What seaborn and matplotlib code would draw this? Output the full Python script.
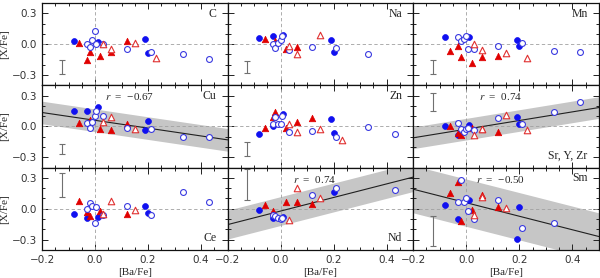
"""Abundance ratios [X/Fe] against [Ba/Fe], 3x3 panel grid."""

import matplotlib
matplotlib.use("Agg")
import matplotlib.pyplot as plt
import numpy as np
import pandas as pd
import seaborn as sns

nan = np.nan

# [Ba/Fe] of the four star groups
BA_FILLED_BLUE = [-0.08, -0.03, 0.01, 0.19, 0.20]
BA_OPEN_BLUE = [-0.03, -0.02, -0.01, 0.00, 0.005, 0.03, 0.12, 0.21, 0.33, 0.43]
BA_FILLED_RED = [-0.06, -0.03, -0.02, 0.02, 0.06, 0.12]
BA_OPEN_RED = [0.03, 0.06, 0.15, 0.23]

ELEMENTS = ["C", "Na", "Mn", "Cu", "Zn", "Sr, Y, Zr", "Ce", "Nd", "Sm"]

# [X/Fe] per element, same order as the [Ba/Fe] lists
FILLED_BLUE = {
    "C": [0.03, nan, 0.02, 0.05, -0.085],
    "Na": [0.06, 0.08, 0.09, 0.04, -0.08],
    "Mn": [0.07, nan, 0.07, 0.036, -0.013],
    "Cu": [0.15, 0.15, 0.19, -0.03, 0.055],
    "Zn": [-0.076, 0.0, 0.12, 0.076, -0.066],
    "Sr, Y, Zr": [0.0, -0.086, 0.013, 0.09, 0.023],
    "Ce": [-0.055, -0.087, -0.077, 0.026, -0.039],
    "Nd": [-0.01, -0.09, -0.084, nan, 0.16],
    "Sm": [0.04, -0.10, 0.087, -0.29, 0.02],
}
OPEN_BLUE = {
    "C": [0.0, -0.03, 0.045, 0.13, 0.0, 0.0, -0.045, -0.075, -0.10, -0.145],
    "Na": [0.0, -0.04, 0.016, 0.04, 0.08, -0.06, -0.03, -0.035, -0.10, nan],
    "Mn": [0.07, 0.03, 0.046, 0.08, -0.046, -0.046, -0.013, 0.007, -0.07, -0.076],
    "Cu": [0.03, -0.01, 0.04, 0.10, 0.155, 0.10, -0.017, -0.026, -0.107, -0.107],
    "Zn": [0.026, 0.09, 0.026, 0.026, 0.105, -0.05, -0.04, -0.10, -0.007, -0.076],
    "Sr, Y, Zr": [0.03, -0.02, -0.05, -0.02, -0.013, -0.03, 0.086, 0.02, 0.145, 0.24],
    "Ce": [0.0, 0.058, 0.026, -0.135, 0.016, -0.065, 0.026, -0.065, 0.16, 0.065],
    "Nd": [-0.058, -0.074, -0.09, -0.10, -0.085, nan, 0.13, 0.20, nan, 0.18],
    "Sm": [0.065, 0.28, 0.07, 0.10, -0.02, -0.097, 0.09, -0.187, -0.14, nan],
}
FILLED_RED = {
    "C": [0.01, -0.155, -0.08, -0.11, -0.08, 0.03],
    "Na": [0.055, nan, 0.03, -0.05, -0.026, nan],
    "Mn": [-0.063, -0.02, -0.125, -0.18, -0.125, -0.11],
    "Cu": [0.03, nan, 0.06, -0.023, -0.033, 0.023],
    "Zn": [-0.016, 0.095, 0.14, -0.016, 0.043, 0.08],
    "Sr, Y, Zr": [0.003, -0.06, -0.08, -0.01, -0.026, -0.053],
    "Ce": [0.08, -0.03, -0.07, -0.023, nan, -0.055],
    "Nd": [0.032, -0.026, nan, 0.07, 0.07, 0.045],
    "Sm": [0.15, 0.265, -0.12, -0.016, 0.135, 0.02],
}
OPEN_RED = {
    "C": [0.0, -0.045, 0.01, -0.13],
    "Na": [-0.016, -0.10, 0.087, nan],
    "Mn": [0.0, -0.053, -0.09, -0.135],
    "Cu": [0.04, 0.09, -0.023, nan],
    "Zn": [0.023, -0.05, -0.023, -0.13],
    "Sr, Y, Zr": [-0.08, -0.02, 0.11, -0.036],
    "Ce": [-0.055, 0.075, -0.013, nan],
    "Nd": [-0.106, 0.20, 0.10, nan],
    "Sm": [-0.065, 0.11, 0.006, nan],
}

# typical error bar: centre and half length
ERR_CENTER = [-0.22, -0.22, -0.22, -0.22, -0.22, 0.24, 0.23, 0.24, -0.22]
ERR_HALF = [0.07, 0.06, 0.07, 0.05, 0.065, 0.09, 0.12, 0.15, 0.145]

# linear fits with correlation coefficient and band half width
FIT_ELEMENTS = ["Cu", "Sr, Y, Zr", "Nd", "Sm"]
FIT_SLOPE = [-0.38, 0.42, 0.66, -0.657]
FIT_INTERCEPT = [0.06, -0.026, -0.022, 0.059]
FIT_BAND = [0.11, 0.105, 0.14, 0.23]
FIT_R = ["\u22120.67", "0.74", "0.74", "\u22120.50"]

LABEL_AT_BOTTOM = ["Sr, Y, Zr", "Ce", "Nd"]

BLUE = "#1010f0"
RED = "#e00000"
OPEN_BLUE_EDGE = "#3a3ae0"
OPEN_RED_EDGE = "#e03030"


def build_frame():
    rows = []
    groups = [
        ("filled_blue", BA_FILLED_BLUE, FILLED_BLUE),
        ("filled_red", BA_FILLED_RED, FILLED_RED),
        ("open_blue", BA_OPEN_BLUE, OPEN_BLUE),
        ("open_red", BA_OPEN_RED, OPEN_RED),
    ]
    for name, ba, table in groups:
        for el in ELEMENTS:
            for b, v in zip(ba, table[el]):
                rows.append({"element": el, "group": name, "ba": b, "x": v})
    return pd.DataFrame(rows).dropna()


STYLES = {
    "filled_blue": dict(marker="o", s=18, facecolor=BLUE, edgecolor=BLUE, linewidth=0.5),
    "filled_red": dict(marker="^", s=22, facecolor=RED, edgecolor=RED, linewidth=0.5),
    "open_blue": dict(marker="o", s=18, facecolor="white", edgecolor=OPEN_BLUE_EDGE, linewidth=0.8),
    "open_red": dict(marker="^", s=22, facecolor="white", edgecolor=OPEN_RED_EDGE, linewidth=0.8),
}


def main():
    sns.set_style("ticks")
    plt.rcParams["font.family"] = ["DejaVu Sans"]
    plt.rcParams["mathtext.fontset"] = "stix"
    serif = ["Liberation Serif", "DejaVu Serif"]

    df = build_frame()
    fig, axes = plt.subplots(3, 3, figsize=(6.0, 2.78), dpi=100, sharex=True, sharey=True)
    fig.subplots_adjust(left=0.07, right=0.998, bottom=0.101, top=0.989, wspace=0, hspace=0)

    xs = np.array([-0.2, 0.5])
    for i, el in enumerate(ELEMENTS):
        ax = axes.flat[i]
        ax.axhline(0, color="#a0a0a0", lw=0.6, ls=(0, (4, 3)), zorder=1)
        ax.axvline(0, color="#a0a0a0", lw=0.6, ls=(0, (4, 3)), zorder=1)

        if el in FIT_ELEMENTS:
            k = FIT_ELEMENTS.index(el)
            line = FIT_INTERCEPT[k] + FIT_SLOPE[k] * xs
            ax.fill_between(xs, line - FIT_BAND[k], line + FIT_BAND[k],
                            color="#c6c6c6", lw=0, zorder=0.5)
            sns.lineplot(x=xs, y=line, ax=ax, color="#202020", lw=0.8, zorder=2)
            ax.text(0.47, 0.86, "$r$  =  " + FIT_R[k], transform=ax.transAxes,
                    ha="center", va="center", fontsize=8, family=serif)

        ax.errorbar([-0.125], [ERR_CENTER[i]], yerr=[ERR_HALF[i]], color="#707070",
                    lw=0.8, capsize=2.5, capthick=0.8, zorder=2)

        sub = df[df["element"] == el]
        for group in ["filled_blue", "filled_red", "open_blue", "open_red"]:
            part = sub[sub["group"] == group]
            sns.scatterplot(data=part, x="ba", y="x", ax=ax, zorder=3, legend=False,
                            **STYLES[group])

        if el in LABEL_AT_BOTTOM:
            ax.text(0.94, 0.14, el, transform=ax.transAxes, ha="right", va="center",
                    fontsize=8.5, family=serif)
        else:
            ax.text(0.94, 0.87, el, transform=ax.transAxes, ha="right", va="center",
                    fontsize=8.5, family=serif)

        ax.set_xlim(-0.2, 0.5)
        ax.set_ylim(-0.4, 0.4)
        ax.set_xticks([-0.2, 0.0, 0.2, 0.4])
        ax.set_xticks(np.arange(-0.2, 0.51, 0.05), minor=True)
        ax.set_yticks([-0.3, 0.0, 0.3])
        ax.set_yticks(np.arange(-0.4, 0.41, 0.1), minor=True)
        ax.xaxis.set_major_formatter(plt.FuncFormatter(lambda v, p: f"{v:.1f}".replace("-", "\u2212")))
        ax.yaxis.set_major_formatter(plt.FuncFormatter(lambda v, p: f"{v:.1f}".replace("-", "\u2212")))
        ax.tick_params(which="both", direction="in", top=True, right=True,
                       labelsize=7.5, width=0.7, colors="#222222", labelcolor="#333333")
        ax.tick_params(which="major", length=4)
        ax.tick_params(which="minor", length=2.5)
        for sp in ax.spines.values():
            sp.set_linewidth(0.9)
            sp.set_color("#111111")
        ax.set_xlabel("")
        ax.set_ylabel("")

    for r in range(3):
        axes[r, 0].set_ylabel("[X/Fe]", fontsize=8, family=serif, labelpad=2)
    for c in range(3):
        axes[2, c].set_xlabel("[Ba/Fe]", fontsize=8, family=serif, labelpad=2)

    fig.savefig("out.png", dpi=100)


if __name__ == "__main__":
    main()
